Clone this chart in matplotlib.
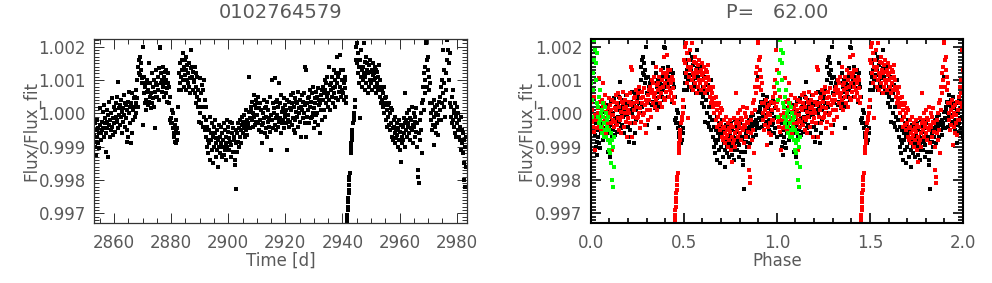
import numpy as np
import matplotlib
matplotlib.use("Agg")
import matplotlib.pyplot as plt
from matplotlib.ticker import MultipleLocator, FormatStrFormatter

star_id = "0102764579"
period = 62.00
t_ref = 2851.6          # phase zero
cycle_colors = ["black", "red", "#00ff00"]

# light curve: time [d], flux offset in ppm
time_d = [
    2853.05, 2853.22, 2853.38, 2853.55, 2853.72, 2853.88,
    2854.05, 2854.22, 2854.38, 2854.55, 2854.72, 2854.88,
    2855.05, 2855.22, 2855.38, 2855.55, 2855.72, 2855.88,
    2856.05, 2856.22, 2856.38, 2856.55, 2856.72, 2856.88,
    2857.05, 2857.22, 2857.38, 2857.55, 2857.72, 2857.88,
    2858.05, 2858.22, 2858.38, 2858.55, 2858.72, 2858.88,
    2859.05, 2859.22, 2859.38, 2859.55, 2859.72, 2859.88,
    2860.05, 2860.22, 2860.38, 2860.55, 2860.72, 2860.88,
    2861.05, 2861.22, 2861.38, 2861.55, 2861.72, 2861.88,
    2862.05, 2862.22, 2862.38, 2862.55, 2862.72, 2862.88,
    2863.05, 2863.22, 2863.38, 2863.55, 2863.72, 2863.88,
    2864.05, 2864.22, 2864.38, 2864.55, 2864.72, 2864.88,
    2865.05, 2865.22, 2865.38, 2865.55, 2865.72, 2865.88,
    2866.05, 2866.22, 2866.38, 2866.55, 2866.72, 2866.88,
    2867.05, 2867.22, 2867.38, 2867.55, 2867.72, 2867.88,
    2868.05, 2868.22, 2868.38, 2868.55, 2868.72, 2868.88,
    2869.05, 2869.22, 2869.38, 2869.55, 2869.72, 2869.88,
    2870.05, 2870.22, 2870.38, 2870.55, 2870.72, 2870.88,
    2871.05, 2871.22, 2871.38, 2871.55, 2871.72, 2871.88,
    2872.05, 2872.22, 2872.38, 2872.55, 2872.72, 2872.88,
    2873.05, 2873.22, 2873.38, 2873.55, 2873.72, 2873.88,
    2874.05, 2874.22, 2874.38, 2874.55, 2874.72, 2874.88,
    2875.05, 2875.22, 2875.38, 2875.55, 2875.72, 2875.88,
    2876.05, 2876.22, 2876.38, 2876.55, 2876.72, 2876.88,
    2877.05, 2877.22, 2877.38, 2877.55, 2877.72, 2877.88,
    2878.05, 2878.22, 2878.38, 2878.55, 2878.72, 2878.88,
    2879.05, 2879.22, 2879.38, 2879.55, 2879.72, 2879.88,
    2880.05, 2880.22, 2880.38, 2880.55, 2880.72, 2880.88,
    2881.05, 2881.22, 2881.38, 2881.55, 2881.72, 2881.88,
    2882.05, 2882.22, 2882.38, 2882.55, 2882.72, 2882.88,
    2883.05, 2883.22, 2883.38, 2883.55, 2883.72, 2883.88,
    2884.05, 2884.22, 2884.38, 2884.55, 2884.72, 2884.88,
    2885.05, 2885.22, 2885.38, 2885.55, 2885.72, 2885.88,
    2886.05, 2886.22, 2886.38, 2886.55, 2886.72, 2886.88,
    2887.05, 2887.22, 2887.38, 2887.55, 2887.72, 2887.88,
    2888.05, 2888.22, 2888.38, 2888.55, 2888.72, 2888.88,
    2889.05, 2889.22, 2889.38, 2889.55, 2889.72, 2889.88,
    2890.05, 2890.22, 2890.38, 2890.55, 2890.72, 2890.88,
    2891.05, 2891.22, 2891.38, 2891.55, 2891.72, 2891.88,
    2892.05, 2892.22, 2892.38, 2892.55, 2892.72, 2892.88,
    2893.05, 2893.22, 2893.38, 2893.55, 2893.72, 2893.88,
    2894.05, 2894.22, 2894.38, 2894.55, 2894.72, 2894.88,
    2895.05, 2895.22, 2895.38, 2895.55, 2895.72, 2895.88,
    2896.05, 2896.22, 2896.38, 2896.55, 2896.72, 2896.88,
    2897.05, 2897.22, 2897.38, 2897.55, 2897.72, 2897.88,
    2898.05, 2898.22, 2898.38, 2898.55, 2898.72, 2898.88,
    2899.05, 2899.22, 2899.38, 2899.55, 2899.72, 2899.88,
    2900.05, 2900.22, 2900.38, 2900.55, 2900.72, 2900.88,
    2901.05, 2901.22, 2901.38, 2901.55, 2901.72, 2901.88,
    2902.05, 2902.22, 2902.38, 2902.55, 2902.72, 2902.88,
    2903.05, 2903.22, 2903.38, 2903.55, 2903.72, 2903.88,
    2904.05, 2904.22, 2904.38, 2904.55, 2904.72, 2904.88,
    2905.05, 2905.22, 2905.38, 2905.55, 2905.72, 2905.88,
    2906.05, 2906.22, 2906.38, 2906.55, 2906.72, 2906.88,
    2907.05, 2907.22, 2907.38, 2907.55, 2907.72, 2907.88,
    2908.05, 2908.22, 2908.38, 2908.55, 2908.72, 2908.88,
    2909.05, 2909.22, 2909.38, 2909.55, 2909.72, 2909.88,
    2910.05, 2910.22, 2910.38, 2910.55, 2910.72, 2910.88,
    2911.05, 2911.22, 2911.38, 2911.55, 2911.72, 2911.88,
    2912.05, 2912.22, 2912.38, 2912.55, 2912.72, 2912.88,
    2913.05, 2913.22, 2913.38, 2913.55, 2913.72, 2913.88,
    2914.05, 2914.22, 2914.38, 2914.55, 2914.72, 2914.88,
    2915.05, 2915.22, 2915.38, 2915.55, 2915.72, 2915.88,
    2916.05, 2916.22, 2916.38, 2916.55, 2916.72, 2916.88,
    2917.05, 2917.22, 2917.38, 2917.55, 2917.72, 2917.88,
    2918.05, 2918.22, 2918.38, 2918.55, 2918.72, 2918.88,
    2919.05, 2919.22, 2919.38, 2919.55, 2919.72, 2919.88,
    2920.05, 2920.22, 2920.38, 2920.55, 2920.72, 2920.88,
    2921.05, 2921.22, 2921.38, 2921.55, 2921.72, 2921.88,
    2922.05, 2922.22, 2922.38, 2922.55, 2922.72, 2922.88,
    2923.05, 2923.22, 2923.38, 2923.55, 2923.72, 2923.88,
    2924.05, 2924.22, 2924.38, 2924.55, 2924.72, 2924.88,
    2925.05, 2925.22, 2925.38, 2925.55, 2925.72, 2925.88,
    2926.05, 2926.22, 2926.38, 2926.55, 2926.72, 2926.88,
    2927.05, 2927.22, 2927.38, 2927.55, 2927.72, 2927.88,
    2928.05, 2928.22, 2928.38, 2928.55, 2928.72, 2928.88,
    2929.05, 2929.22, 2929.38, 2929.55, 2929.72, 2929.88,
    2930.05, 2930.22, 2930.38, 2930.55, 2930.72, 2930.88,
    2931.05, 2931.22, 2931.38, 2931.55, 2931.72, 2931.88,
    2932.05, 2932.22, 2932.38, 2932.55, 2932.72, 2932.88,
    2933.05, 2933.22, 2933.38, 2933.55, 2933.72, 2933.88,
    2934.05, 2934.22, 2934.38, 2934.55, 2934.72, 2934.88,
    2935.05, 2935.22, 2935.38, 2935.55, 2935.72, 2935.88,
    2936.05, 2936.22, 2936.38, 2936.55, 2936.72, 2936.88,
    2937.05, 2937.22, 2937.38, 2937.55, 2937.72, 2937.88,
    2938.05, 2938.22, 2938.38, 2938.55, 2938.72, 2938.88,
    2939.05, 2939.22, 2939.38, 2939.55, 2939.72, 2939.88,
    2940.05, 2940.22, 2940.38, 2940.55, 2940.72, 2940.88,
    2941.05, 2941.20, 2941.35, 2941.60, 2941.68, 2941.75, 2941.82, 2941.90, 2941.98,
    2942.05, 2942.12, 2942.20, 2942.28, 2942.36, 2942.44, 2942.52, 2942.90, 2942.98,
    2943.06, 2943.14, 2943.22, 2943.30, 2943.38, 2943.50, 2943.70, 2943.90,
    2944.05, 2944.20, 2944.35, 2944.50, 2944.70, 2944.88,
    2945.05, 2945.22, 2945.38, 2945.55, 2945.72, 2945.88,
    2946.05, 2946.22, 2946.38, 2946.55, 2946.72, 2946.88,
    2947.05, 2947.22, 2947.38, 2947.55, 2947.72, 2947.88,
    2948.05, 2948.22, 2948.38, 2948.55, 2948.72, 2948.88,
    2949.05, 2949.22, 2949.38, 2949.55, 2949.72, 2949.88,
    2950.05, 2950.22, 2950.38, 2950.55, 2950.72, 2950.88,
    2951.05, 2951.22, 2951.38, 2951.55, 2951.72, 2951.88,
    2952.05, 2952.22, 2952.38, 2952.55, 2952.72, 2952.88,
    2953.05, 2953.22, 2953.38, 2953.55, 2953.72, 2953.88,
    2954.05, 2954.22, 2954.38, 2954.55, 2954.72, 2954.88,
    2955.05, 2955.22, 2955.38, 2955.55, 2955.72, 2955.88,
    2956.05, 2956.22, 2956.38, 2956.55, 2956.72, 2956.88,
    2957.05, 2957.22, 2957.38, 2957.55, 2957.72, 2957.88,
    2958.05, 2958.22, 2958.38, 2958.55, 2958.72, 2958.88,
    2959.05, 2959.22, 2959.38, 2959.55, 2959.72, 2959.88,
    2960.05, 2960.22, 2960.38, 2960.55, 2960.72, 2960.88,
    2961.05, 2961.22, 2961.38, 2961.55, 2961.72, 2961.88,
    2962.05, 2962.22, 2962.38, 2962.55, 2962.72, 2962.88,
    2963.05, 2963.22, 2963.38, 2963.55, 2963.72, 2963.88,
    2964.05, 2964.22, 2964.38, 2964.55, 2964.72, 2964.88,
    2965.05, 2965.22, 2965.38, 2965.55, 2965.72, 2965.88,
    2966.05, 2966.22, 2966.38, 2966.55, 2966.72, 2966.88,
    2967.05, 2967.22, 2967.38, 2967.55, 2967.72, 2967.88,
    2968.05, 2968.22, 2968.38, 2968.55, 2968.72, 2968.88,
    2969.05, 2969.22, 2969.38, 2969.55, 2969.72, 2969.88,
    2970.05, 2970.22, 2970.38, 2970.55, 2970.72, 2970.88,
    2971.05, 2971.22, 2971.38, 2971.55, 2971.72, 2971.88,
    2972.05, 2972.22, 2972.38, 2972.55, 2972.72, 2972.88,
    2973.05, 2973.22, 2973.38, 2973.55, 2973.72, 2973.88,
    2974.05, 2974.22, 2974.38, 2974.55, 2974.72, 2974.88,
    2975.05, 2975.22, 2975.38, 2975.55, 2975.72, 2975.88,
    2976.05, 2976.22, 2976.38, 2976.55, 2976.72, 2976.88,
    2977.05, 2977.22, 2977.38, 2977.55, 2977.72, 2977.88,
    2978.05, 2978.22, 2978.38, 2978.55, 2978.72, 2978.88,
    2979.05, 2979.22, 2979.38, 2979.55, 2979.72, 2979.88,
    2980.05, 2980.22, 2980.38, 2980.55, 2980.72, 2980.88,
    2981.05, 2981.22, 2981.38, 2981.55, 2981.72, 2981.88,
    2982.05, 2982.22, 2982.38, 2982.55, 2982.72, 2982.88,
    2983.05, 2983.22, 2983.38,
]

flux_ppm = [
    -650, -1000, -300, -850, -1250, -500,
    -700, -200, -900, -450, -1050, -600,
    -350, 150, -600, -800, -250, -500,
    -450, 50, -700, 250, -300, -150,
    -600, -1150, -250, 100, -450, -50,
    -1300, -350, 350, -700, -200, -500,
    0, -400, 450, -150, -650, 200,
    -300, 100, -550, 300, -100, -250,
    500, -200, 930, -450, 150, -50,
    -350, 250, -100, 400, -600, 50,
    150, -250, 550, -50, 300, -400,
    -150, 250, -850, 100, -500, 350,
    -700, 0, 650, -300, 200, -900,
    300, -600, 600, -200, 100, 450,
    200, 500, -100, 700, 300, 0,
    450, 1000, 1400, 200, 1600, 1200,
    1700, 1150, 1500, 1300, 900, 1050,
    2000, -350, 600, 1100, 300, 800,
    400, 900, 100, 650, 1000, 250,
    700, 1500, 350, 500, 900, 150,
    600, 1200, 300, 800, 450, 1000,
    200, 650, -450, 900, 500, 1300,
    850, 500, 1100, 700, 1350, 400,
    2000, 1950, 900, 1200, 650, 1000,
    800, 1400, 500, 1100, 900, 1250,
    1000, 600, 1300, 750, 350, 900,
    1200, 300, 800, -200, 500, -300,
    -150, 100, -300, -450, 0, -600,
    -700, -350, -850, -500, -900, -200,
    -800, -450, -600, 200, 700, 1200,
    900, 1500, 1100, 700, 1300, 1600,
    1000, 1800, 800, 1400, 1150, 1600,
    1300, 700, 1700, 1000, 1450, 900,
    1200, 800, 1500, 1050, 600, 1350,
    1900, 1100, 1400, 700, 1250, 950,
    1000, 1400, 600, 1200, 300, 800,
    500, 1100, 200, 700, -250, 400,
    1050, 0, 600, -300, 850, 200,
    -400, 700, -100, 1000, -500, 400,
    -200, -700, 200, -1000, -400, -800,
    -1200, -500, -900, -100, -1400, -600,
    -800, -300, -1100, -700, -1500, -400,
    -1000, -600, -200, -1300, -750, -900,
    -500, -1100, -1600, -800, -350, -1000,
    -1200, -700, -400, -900, -1300, -600,
    -800, -1000, -300, -1250, -500, -1100,
    -700, -1400, -900, -200, -1000, -550,
    -400, -1100, -750, -250, -850, -1300,
    -950, -300, -600, -1150, -450, -800,
    -700, -1550, -1400, -900, -2270, -500,
    -1150, -600, -850, -300, -1000, -450,
    -700, -200, -500, -900, -350, -100,
    -600, -250, -450, -50, -700, -300,
    -350, 100, -500, -200, -650, -400,
    -300, 1100, 50, -450, -150, 200,
    100, -200, 350, -400, 0, 550,
    -100, 250, -350, 400, 150, -250,
    300, -50, 500, -300, 150, -500,
    -200, 300, -550, 100, -900, -350,
    0, -300, 400, -150, -600, 150,
    -450, 200, -100, -700, 350, -250,
    100, -400, -150, 500, -550, -50,
    -1100, 1000, -200, 300, -450, 0,
    150, -350, 1050, 350, -150, -500,
    -50, 400, -400, 200, 900, -250,
    300, -150, 550, -600, 50, -300,
    -200, 150, -450, 450, 0, -100,
    250, -300, 100, -1100, 400, -200,
    -50, 350, -400, 150, -250, 550,
    100, -350, 300, -150, 600, -500,
    200, -200, 450, -600, 50, 350,
    -100, 300, 650, -400, 150, 0,
    400, -250, 200, -700, 550, 100,
    -150, 350, 0, 600, -300, 250,
    1400, 1300, -700, 300, -100, 450,
    100, 500, -300, 700, 200, -150,
    350, -100, 600, 0, 800, -450,
    150, 450, -250, 300, 650, -50,
    500, 0, 750, -350, 250, 400,
    -600, 300, 100, 550, -200, 700,
    400, 800, 100, 600, -100, 1000,
    700, 300, 900, 500, 1100, 200,
    600, 1400, 400, 850, 100, 700,
    900, 500, 1100, 300, 750, 1300,
    600, 1000, 200, 800, 1200, 450,
    1700, 900, 400, 1100, 650, 1200,
    1750, 800, 1300, 500, 1000, 700,
    1300, 600, 900, 400, 1100, 750,
    1000, 500, 300, -3250, -3150, -3050, -2900, -2800, -2650,
    -2550, -2400, -2300, -2150, -2000, -1900, -1800, -1200, -1100,
    -1000, -900, -800, -700, -600, -500, -300, -100,
    -200, 0, 200, 400, 1600, 2000,
    1500, 2100, 1200, 1800, 900, 1400,
    -140, 1600, 1100, 1900, 1300, 800,
    1400, 1000, 2100, 1200, 700, 1550,
    1100, 1700, 900, 1300, 1500, 600,
    1200, 800, 1450, 1000, 1600, 1250,
    900, 1300, 700, 1150, 1500, 1000,
    1200, 800, 1400, 1050, 600, 1300,
    900, 1250, 700, 1100, 1450, 800,
    1000, 500, 800, 300, 700, 400,
    600, 200, 800, 0, 450, 250,
    300, -200, 500, 100, -400, 250,
    -100, 300, -350, 0, -500, 150,
    -300, -700, 100, -450, -800, -200,
    -400, -900, -600, -100, -750, -500,
    -650, -300, -1000, -450, -800, -200,
    -550, -1100, -350, -1450, -700, -900,
    -400, -800, -150, -600, -1000, -300,
    600, -500, -200, -700, 0, -400,
    -300, 100, -600, -150, -800, -450,
    -200, -500, 200, -350, -900, 0,
    -400, -100, -700, -250, 150, -550,
    -300, -1000, -1700, -1900, -2100, -600,
    -200, -800, 0, -500, 300, -1200,
    400, 800, 100, 1200, 600, 1400,
    1000, 2100, 2150, 1600, 800, 1300,
    1700, 700, 1100, 300, 900, 0,
    -200, 300, -500, 100, -350, 400,
    -100, -950, 200, -400, 0, -600,
    250, -300, -50, -650, 350, -200,
    100, 500, -200, 800, 300, 1000,
    600, 1900, 200, 1300, 900, -100,
    400, 1200, 700, 1600, 2200, 1900,
    2300, 1500, 1000, 1800, 300, -100,
    200, -300, 500, -200, 700, 0,
    -400, 100, -600, 300, -100, -700,
    -300, 200, -500, 0, -700, -200,
    -400, -800, -100, -1100, -500, -900,
    -1200, -600, -1500, -2000, -800, -2200,
    -1000, -1600, -700,
]

assert len(time_d) == len(flux_ppm), (len(time_d), len(flux_ppm))

t = np.array(time_d)
flux = 1.0 + np.array(flux_ppm) * 1e-6

# folding
cycles = np.floor((t - t_ref) / period).astype(int)
phase = (t - t_ref) / period - cycles

txt_col = "#595959"
plt.rcParams["font.family"] = "DejaVu Sans"

fig = plt.figure(figsize=(9.92, 2.83), dpi=100)
W, H = 992.0, 283.0
ax1 = fig.add_axes([94 / W, 1 - 223 / H, (467 - 94) / W, (223 - 39) / H])
ax2 = fig.add_axes([590.7 / W, 1 - 223 / H, (963 - 590.7) / W, (223 - 39) / H])


def style(ax, frame_col, lw):
    ax.set_ylim(0.99671, 1.00223)
    ax.yaxis.set_major_locator(MultipleLocator(0.001))
    ax.yaxis.set_minor_locator(MultipleLocator(0.0001))
    ax.yaxis.set_major_formatter(FormatStrFormatter("%.3f"))
    ax.tick_params(which="both", direction="in", top=True, right=True,
                   color=frame_col, width=lw * 0.8, labelcolor=txt_col,
                   labelsize=12)
    ax.tick_params(which="major", length=7)
    ax.tick_params(which="minor", length=3.5)
    ax.tick_params(axis="x", pad=8)
    ax.tick_params(axis="y", pad=6)
    for s in ax.spines.values():
        s.set_color(frame_col)
        s.set_linewidth(lw)


# left: light curve
ax1.plot(t, flux, "s", color="black", ms=2.4, mew=0)
ax1.set_xlim(2853.0, 2983.6)
ax1.xaxis.set_major_locator(MultipleLocator(20))
ax1.xaxis.set_minor_locator(MultipleLocator(5))
style(ax1, "#333333", 0.9)

# right: folded, each cycle in its own colour, shown twice
for c, col in enumerate(cycle_colors):
    m = cycles == c
    ax2.plot(np.concatenate([phase[m], phase[m] + 1]),
             np.concatenate([flux[m], flux[m]]),
             "s", color=col, ms=2.7, mew=0)
ax2.set_xlim(0, 2)
ax2.xaxis.set_major_locator(MultipleLocator(0.5))
ax2.xaxis.set_minor_locator(MultipleLocator(0.1))
ax2.xaxis.set_major_formatter(FormatStrFormatter("%.1f"))
style(ax2, "black", 1.5)

fig.text(280.5 / W, 1 - 13 / H, star_id, ha="center", va="center",
         fontsize=14, color=txt_col)
fig.text(777 / W, 1 - 13 / H, "P=   %.2f" % period, ha="center", va="center",
         fontsize=14, color=txt_col)
fig.text(280.5 / W, 1 - 261 / H, "Time [d]", ha="center", va="center",
         fontsize=12, color=txt_col)
fig.text(777 / W, 1 - 261 / H, "Phase", ha="center", va="center",
         fontsize=12, color=txt_col)
fig.text(31 / W, 1 - 131 / H, "Flux/Flux_fit", ha="center", va="center",
         rotation=90, fontsize=12, color=txt_col)
fig.text(526 / W, 1 - 131 / H, "Flux/Flux_fit", ha="center", va="center",
         rotation=90, fontsize=12, color=txt_col)

fig.savefig("out.png", dpi=100)
